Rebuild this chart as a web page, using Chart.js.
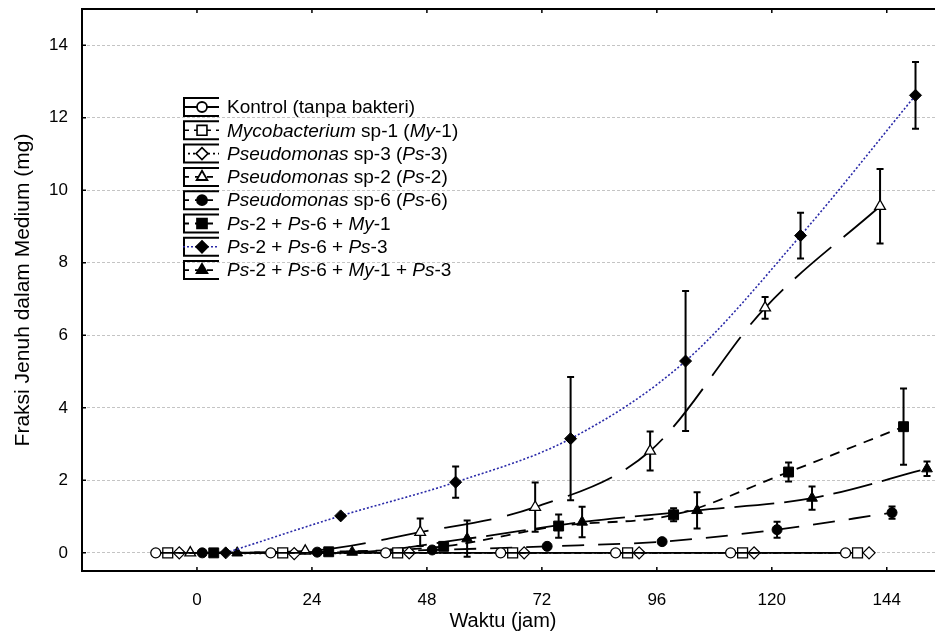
<!DOCTYPE html>
<html>
<head>
<meta charset="utf-8">
<script src="https://cdn.jsdelivr.net/npm/chart.js@4.4.1/dist/chart.umd.min.js"></script>
<style>
  html, body { margin: 0; padding: 0; background: #fff; overflow: hidden; }
  #wrap { width: 960px; height: 643px; }
</style>
</head>
<body>
<div id="wrap"><canvas id="c"></canvas></div>
<script>
// Sampling times (jam) and axis ticks
const HOURS   = [0, 24, 48, 72, 96, 120, 144];
const X_TICKS = [0, 24, 48, 72, 96, 120, 144];
const Y_TICKS = [0, 2, 4, 6, 8, 10, 12, 14];

// Per-series shift along the time axis (jam) so the groups do not overlap
const SHIFT = [-8.6, -6.1, -3.7, -1.4, 1.1, 3.5, 6.0, 8.4];

// Mean values (mg) and standard deviations for each treatment
const kontrol    = [0, 0, 0, 0, 0, 0, 0];
const kontrolSD  = [0, 0, 0, 0, 0, 0, 0];
const my1        = [0, 0, 0, 0, 0, 0, 0];
const my1SD      = [0, 0, 0, 0, 0, 0, 0];
const ps3        = [0, -0.02, 0, 0, 0, 0, 0];
const ps3SD      = [0, 0, 0, 0, 0, 0, 0];
const ps2        = [0, 0.05, 0.57, 1.26, 2.81, 6.76, 9.56];
const ps2SD      = [0, 0, 0.38, 0.68, 0.54, 0.30, 1.03];
const ps6        = [0, 0.02, 0.08, 0.18, 0.31, 0.64, 1.11];
const ps6SD      = [0, 0, 0.03, 0.03, 0.04, 0.22, 0.17];
const ps2ps6my1  = [0, 0.03, 0.18, 0.74, 1.05, 2.23, 3.48];
const ps2ps6my1SD= [0, 0, 0.05, 0.32, 0.18, 0.26, 1.05];
const ps2ps6ps3  = [0, 1.02, 1.95, 3.15, 5.29, 8.75, 12.62];
const ps2ps6ps3SD= [0, 0.03, 0.43, 1.70, 1.93, 0.63, 0.92];
const campuran   = [0, 0.02, 0.39, 0.85, 1.17, 1.51, 2.32];
const campuranSD = [0, 0, 0.50, 0.42, 0.50, 0.32, 0.20];

// Legend labels: [text, italic]
const LABELS = [
  [["Kontrol (tanpa bakteri)", false]],
  [["Mycobacterium", true], [" sp-1 (", false], ["My", true], ["-1)", false]],
  [["Pseudomonas", true], [" sp-3 (", false], ["Ps", true], ["-3)", false]],
  [["Pseudomonas", true], [" sp-2 (", false], ["Ps", true], ["-2)", false]],
  [["Pseudomonas", true], [" sp-6 (", false], ["Ps", true], ["-6)", false]],
  [["Ps", true], ["-2 + ", false], ["Ps", true], ["-6 + ", false], ["My", true], ["-1", false]],
  [["Ps", true], ["-2 + ", false], ["Ps", true], ["-6 + ", false], ["Ps", true], ["-3", false]],
  [["Ps", true], ["-2 + ", false], ["Ps", true], ["-6 + ", false], ["My", true], ["-1 + ", false], ["Ps", true], ["-3", false]]
];
const X_TITLE = "Waktu (jam)";
const Y_TITLE = "Fraksi Jenuh dalam Medium (mg)";

const VALUES = [kontrol, my1, ps3, ps2, ps6, ps2ps6my1, ps2ps6ps3, campuran];
const SDS    = [kontrolSD, my1SD, ps3SD, ps2SD, ps6SD, ps2ps6my1SD, ps2ps6ps3SD, campuranSD];

// Drawing styles for each treatment
const STYLES = [
  { point: 'circle',   radius: 5,   open: true,  color: '#000', width: 1.8, dash: [] },
  { point: 'rect',     radius: 7,   open: true,  color: '#000', width: 1.6, dash: [6, 5] },
  { point: 'rectRot',  radius: 6,   open: true,  color: '#000', width: 1.6, dash: [2, 3] },
  { point: 'triangle', radius: 6.2, open: true,  color: '#000', width: 1.8, dash: [48, 16] },
  { point: 'circle',   radius: 5,   open: false, color: '#000', width: 1.8, dash: [22, 14] },
  { point: 'rect',     radius: 7,   open: false, color: '#000', width: 1.8, dash: [10, 8] },
  { point: 'rectRot',  radius: 6,   open: false, color: '#2a2aa8', width: 1.6, dash: [2, 2] },
  { point: 'triangle', radius: 6.2, open: false, color: '#000', width: 1.8, dash: [40, 10] }
];

const FONT = '"Liberation Sans", Arial, sans-serif';

const datasets = VALUES.map((vals, i) => {
  const s = STYLES[i];
  return {
    label: LABELS[i].map(p => p[0]).join(''),
    data: vals.map((v, k) => ({ x: HOURS[k] + SHIFT[i], y: v, sd: SDS[i][k] })),
    showLine: true,
    borderColor: s.color,
    borderWidth: s.width,
    borderDash: s.dash,
    cubicInterpolationMode: 'monotone',
    pointStyle: s.point,
    pointRadius: s.radius,
    pointHoverRadius: s.radius,
    pointBackgroundColor: s.open ? '#fff' : '#000',
    pointBorderColor: '#000',
    pointBorderWidth: s.open ? 1.3 : 1,
    clip: false
  };
});

// Standard-deviation whiskers, drawn beneath the markers
const whiskers = {
  id: 'whiskers',
  beforeDatasetsDraw(chart) {
    const { ctx, scales: { x, y } } = chart;
    ctx.save();
    ctx.strokeStyle = '#000';
    ctx.lineWidth = 2;
    chart.data.datasets.forEach(ds => {
      ds.data.forEach(p => {
        if (!p.sd || p.sd < 0.1) return;
        const px = x.getPixelForValue(p.x);
        const top = y.getPixelForValue(p.y + p.sd);
        const bot = y.getPixelForValue(p.y - p.sd);
        ctx.beginPath();
        ctx.moveTo(px, top); ctx.lineTo(px, bot);
        ctx.moveTo(px - 3.5, top); ctx.lineTo(px + 3.5, top);
        ctx.moveTo(px - 3.5, bot); ctx.lineTo(px + 3.5, bot);
        ctx.stroke();
      });
    });
    ctx.restore();
  }
};

// Axis frame, inner tick marks, axis titles and the legend box
const frame = {
  id: 'frame',
  afterDraw(chart) {
    const { ctx, chartArea: a, scales: { x, y } } = chart;
    ctx.save();
    ctx.strokeStyle = '#000';
    ctx.lineWidth = 2;
    ctx.beginPath();
    ctx.moveTo(a.left, a.top); ctx.lineTo(a.left, a.bottom);
    ctx.moveTo(a.left - 1, a.bottom); ctx.lineTo(a.right, a.bottom);
    ctx.moveTo(a.left - 1, a.top); ctx.lineTo(a.right, a.top);
    ctx.moveTo(a.right, a.top); ctx.lineTo(a.right, a.bottom);
    ctx.stroke();
    ctx.lineWidth = 1.5;
    ctx.beginPath();
    X_TICKS.forEach(t => {
      const px = x.getPixelForValue(t);
      ctx.moveTo(px, a.bottom); ctx.lineTo(px, a.bottom - 4);
      ctx.moveTo(px, a.top); ctx.lineTo(px, a.top + 4);
    });
    Y_TICKS.forEach(t => {
      const py = y.getPixelForValue(t);
      ctx.moveTo(a.left, py); ctx.lineTo(a.left + 4, py);
    });
    ctx.stroke();

    // axis titles
    ctx.fillStyle = '#000';
    ctx.textAlign = 'center';
    ctx.textBaseline = 'middle';
    ctx.font = '20px ' + FONT;
    ctx.fillText(X_TITLE, 503, 621);
    ctx.save();
    ctx.font = '21px ' + FONT;
    ctx.translate(23, (a.top + a.bottom) / 2);
    ctx.rotate(-Math.PI / 2);
    ctx.fillText(Y_TITLE, 0, 0);
    ctx.restore();

    // legend
    const x0 = 183, x1 = 219, mx = 202, tx = 227;
    const y0 = 107, step = 23.3;
    ctx.textAlign = 'left';
    LABELS.forEach((parts, i) => {
      const s = STYLES[i];
      const cy = y0 + i * step;
      ctx.strokeStyle = '#000';
      ctx.lineWidth = 2;
      ctx.setLineDash([]);
      ctx.beginPath();
      ctx.moveTo(x0, cy - 9); ctx.lineTo(x1, cy - 9);
      ctx.moveTo(x0, cy + 9); ctx.lineTo(x1, cy + 9);
      ctx.moveTo(x0 + 1, cy - 9); ctx.lineTo(x0 + 1, cy + 9);
      ctx.stroke();
      ctx.strokeStyle = s.color;
      ctx.lineWidth = s.width;
      ctx.setLineDash(s.dash.length ? s.dash.map(d => Math.min(d, 6)) : []);
      ctx.beginPath();
      ctx.moveTo(x0, cy); ctx.lineTo(x1, cy);
      ctx.stroke();
      ctx.setLineDash([]);
      ctx.fillStyle = s.open ? '#fff' : '#000';
      ctx.strokeStyle = '#000';
      Chart.helpers.drawPoint(ctx, {
        pointStyle: s.point, rotation: 0, radius: s.radius,
        borderWidth: s.open ? 1.3 : 1
      }, mx, cy);
      ctx.fillStyle = '#000';
      let cx = tx;
      parts.forEach(([txt, it]) => {
        ctx.font = (it ? 'italic ' : '') + '19px ' + FONT;
        ctx.fillText(txt, cx, cy + 1);
        cx += ctx.measureText(txt).width;
      });
    });
    ctx.restore();
  }
};

new Chart(document.getElementById('c'), {
  type: 'scatter',
  data: { datasets },
  options: {
    responsive: true,
    maintainAspectRatio: false,
    animation: false,
    events: [],
    layout: { padding: { top: 9, right: 10, left: 0, bottom: 0 } },
    plugins: { legend: { display: false }, tooltip: { enabled: false } },
    scales: {
      x: {
        type: 'linear',
        min: -24,
        max: 157.2,
        afterBuildTicks: s => { s.ticks = X_TICKS.map(v => ({ value: v })); },
        afterFit: s => { s.height = 72; s.paddingLeft = 0; s.paddingRight = 0; },
        grid: { display: false, drawTicks: false },
        border: { display: false },
        ticks: { color: '#000', font: { size: 17, family: FONT }, padding: 19, maxRotation: 0 }
      },
      y: {
        type: 'linear',
        min: -0.5,
        max: 15,
        afterBuildTicks: s => { s.ticks = Y_TICKS.map(v => ({ value: v })); },
        afterFit: s => { s.width = 82; s.paddingTop = 0; s.paddingBottom = 0; },
        grid: { color: '#c4c4c4', lineWidth: 1, drawTicks: false },
        border: { display: false, dash: [3, 2] },
        ticks: { color: '#000', font: { size: 17, family: FONT }, padding: 14 }
      }
    }
  },
  plugins: [whiskers, frame]
});
</script>
</body>
</html>
